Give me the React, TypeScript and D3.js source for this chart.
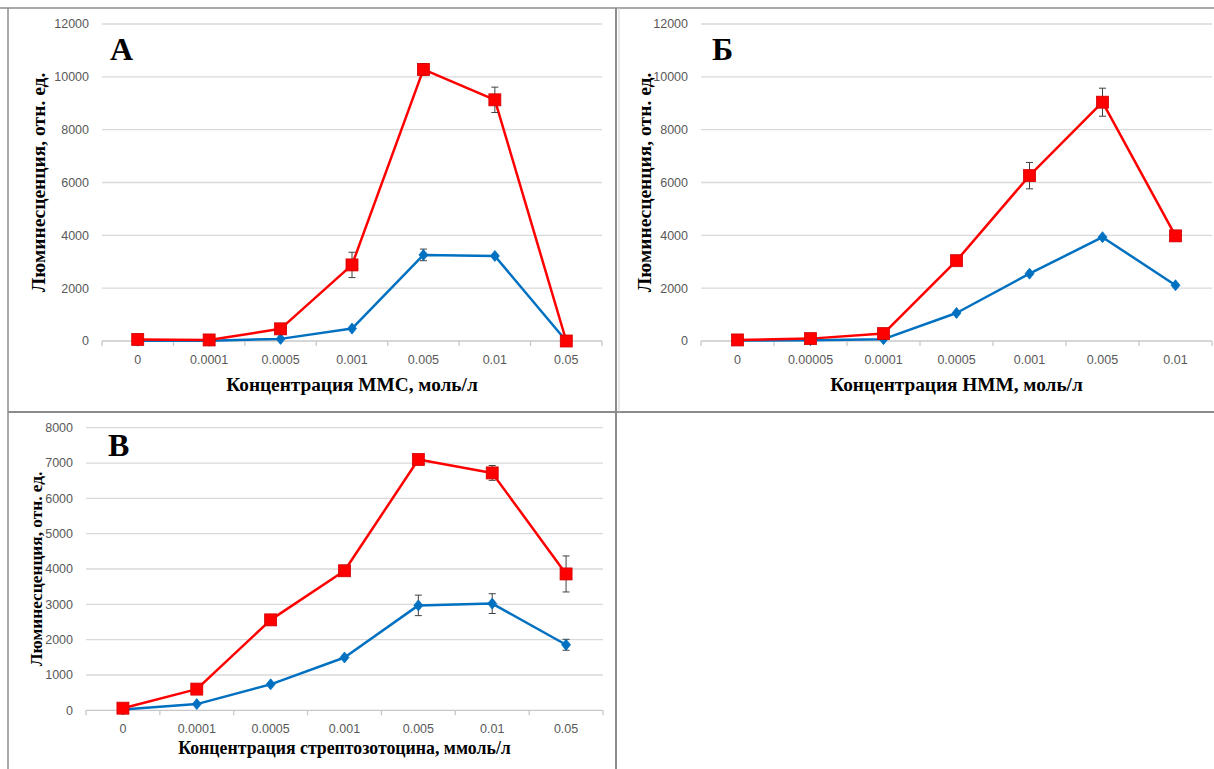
import React from 'react';
import * as d3 from 'd3';

// categories (concentrations)
const catsA = ['0', '0.0001', '0.0005', '0.001', '0.005', '0.01', '0.05'];
const catsB = ['0', '0.00005', '0.0001', '0.0005', '0.001', '0.005', '0.01'];
const catsC = ['0', '0.0001', '0.0005', '0.001', '0.005', '0.01', '0.05'];

// panel A - MMC
const redA = [60, 40, 460, 2880, 10280, 9130, 0];
const redErrA = [0, 0, 0, 480, 220, 480, 0];
const blueA = [10, 10, 80, 470, 3260, 3220, 0];
const blueErrA = [0, 0, 0, 0, 220, 0, 0];

// panel Б - HMM
const redB = [40, 90, 280, 3040, 6260, 9040, 3980];
const redErrB = [0, 0, 0, 0, 500, 530, 0];
const blueB = [20, 30, 70, 1060, 2550, 3930, 2110];
const blueErrB = [0, 0, 0, 0, 0, 0, 0];

// panel В - streptozotocin
const redC = [60, 600, 2560, 3950, 7100, 6720, 3860];
const redErrC = [0, 0, 0, 0, 0, 210, 510];
const blueC = [25, 175, 735, 1495, 2970, 3020, 1855];
const blueErrC = [0, 0, 0, 0, 290, 280, 155];

const yTicksAB = [0, 2000, 4000, 6000, 8000, 10000, 12000];
const yTicksC = [0, 1000, 2000, 3000, 4000, 5000, 6000, 7000, 8000];

const yLabel = 'Люминесценция, отн.  ед.';

const panels = [
  {
    letter: 'А', cats: catsA, red: redA, redErr: redErrA, blue: blueA, blueErr: blueErrA,
    ticks: yTicksAB, xTitle: 'Концентрация ММС, моль/л',
    left: 102, right: 602, top: 24, bottom: 341,
    letterX: 110, letterY: 60, labelX: 38, titleY: 391, labelSize: 19.5, titleSize: 19.3,
  },
  {
    letter: 'Б', cats: catsB, red: redB, redErr: redErrB, blue: blueB, blueErr: blueErrB,
    ticks: yTicksAB, xTitle: 'Концентрация НММ, моль/л',
    left: 701, right: 1212, top: 24, bottom: 341,
    letterX: 712, letterY: 60, labelX: 644, titleY: 391, labelSize: 19.5, titleSize: 19.3,
  },
  {
    letter: 'В', cats: catsC, red: redC, redErr: redErrC, blue: blueC, blueErr: blueErrC,
    ticks: yTicksC, xTitle: 'Концентрация стрептозотоцина, ммоль/л',
    left: 86, right: 603, top: 427.7, bottom: 710.3,
    letterX: 108, letterY: 456, labelX: 36, titleY: 754, labelSize: 17.3, titleSize: 17.8,
  },
];

const RED = '#ff0000';
const BLUE = '#0070c0';
const tickFont = '"Liberation Sans", Arial, sans-serif';
const serif = '"Liberation Serif", "Times New Roman", serif';

function Panel({ p }: { p: any }) {
  const x = d3.scaleBand<string>().domain(p.cats).range([p.left, p.right]);
  const y = d3.scaleLinear().domain([0, d3.max(p.ticks as number[])!]).range([p.bottom, p.top]);
  const cx = (i: number) => x(p.cats[i])! + x.bandwidth() / 2;

  const line = d3.line<number>().x((_, i) => cx(i)).y(d => y(d));

  const errBars = (vals: number[], errs: number[], key: string) =>
    vals.map((v, i) => errs[i] > 0 ? (
      <g key={key + i} stroke="#404040" strokeWidth={1}>
        <line x1={cx(i)} x2={cx(i)} y1={y(v - errs[i])} y2={y(v + errs[i])} />
        <line x1={cx(i) - 3.5} x2={cx(i) + 3.5} y1={y(v - errs[i])} y2={y(v - errs[i])} />
        <line x1={cx(i) - 3.5} x2={cx(i) + 3.5} y1={y(v + errs[i])} y2={y(v + errs[i])} />
      </g>
    ) : null);

  const midY = (p.top + p.bottom) / 2;
  const midX = (p.left + p.right) / 2;

  return (
    <g>
      {/* gridlines */}
      {p.ticks.map((t: number) => (
        <line key={'g' + t} x1={p.left} x2={p.right} y1={y(t)} y2={y(t)}
          stroke={t === 0 ? '#c8c8c8' : '#d9d9d9'} strokeWidth={1.3} />
      ))}
      {/* y tick labels */}
      {p.ticks.map((t: number) => (
        <text key={'t' + t} x={p.left - 13} y={y(t)} dy="0.35em" textAnchor="end"
          fontFamily={tickFont} fontSize={12.5} fill="#595959">{t}</text>
      ))}
      {/* x ticks at band edges */}
      {d3.range(p.cats.length + 1).map(i => {
        const xx = p.left + i * x.bandwidth();
        return <line key={'xt' + i} x1={xx} x2={xx} y1={p.bottom} y2={p.bottom + 5} stroke="#c8c8c8" strokeWidth={1.3} />;
      })}
      {p.cats.map((c: string, i: number) => (
        <text key={'xl' + c} x={cx(i)} y={p.bottom + 23} textAnchor="middle"
          fontFamily={tickFont} fontSize={12.5} fill="#595959">{c}</text>
      ))}

      {/* blue series */}
      <path d={line(p.blue)!} fill="none" stroke={BLUE} strokeWidth={2.5} strokeLinejoin="round" />
      {errBars(p.blue, p.blueErr, 'be')}
      {p.blue.map((v: number, i: number) => (
        <path key={'bm' + i} transform={`translate(${cx(i)},${y(v)})`}
          d="M0,-5.5L4.5,0L0,5.5L-4.5,0Z" fill={BLUE} stroke={BLUE} strokeWidth={0.8} />
      ))}

      {/* red series */}
      <path d={line(p.red)!} fill="none" stroke={RED} strokeWidth={2.5} strokeLinejoin="round" />
      {errBars(p.red, p.redErr, 're')}
      {p.red.map((v: number, i: number) => (
        <rect key={'rm' + i} x={cx(i) - 6} y={y(v) - 6} width={12} height={12}
          fill={RED} stroke="#d00000" strokeWidth={0.8} />
      ))}

      {/* letter */}
      <text x={p.letterX} y={p.letterY} fontFamily={serif} fontWeight="bold" fontSize={32} fill="#000">{p.letter}</text>

      {/* axis titles */}
      <text transform={`translate(${p.labelX},${midY}) rotate(-90)`} textAnchor="middle" dominantBaseline="central"
        fontFamily={serif} fontWeight="bold" fontSize={p.labelSize} fill="#000">{yLabel}</text>
      <text x={midX} y={p.titleY} textAnchor="middle"
        fontFamily={serif} fontWeight="bold" fontSize={p.titleSize} fill="#000">{p.xTitle}</text>
    </g>
  );
}

export default function App() {
  return (
    <svg width={1214} height={769} style={{ position: 'absolute', left: 0, top: 0, background: '#fff' }}>
      <rect width={1214} height={769} fill="#fff" />
      {/* panel frames */}
      <g stroke="#8c8c8c" fill="none">
        <line x1={0} x2={1214} y1={8} y2={8} strokeWidth={1.5} />
        <line x1={8} x2={8} y1={8} y2={769} strokeWidth={1.5} />
        <line x1={8} x2={1214} y1={412} y2={412} strokeWidth={2} />
        <line x1={616} x2={616} y1={8} y2={769} strokeWidth={2} />
        <line x1={619} x2={619} y1={8} y2={412} strokeWidth={1} stroke="#cfcfcf" />
      </g>
      {panels.map(p => <Panel key={p.letter} p={p} />)}
    </svg>
  );
}
